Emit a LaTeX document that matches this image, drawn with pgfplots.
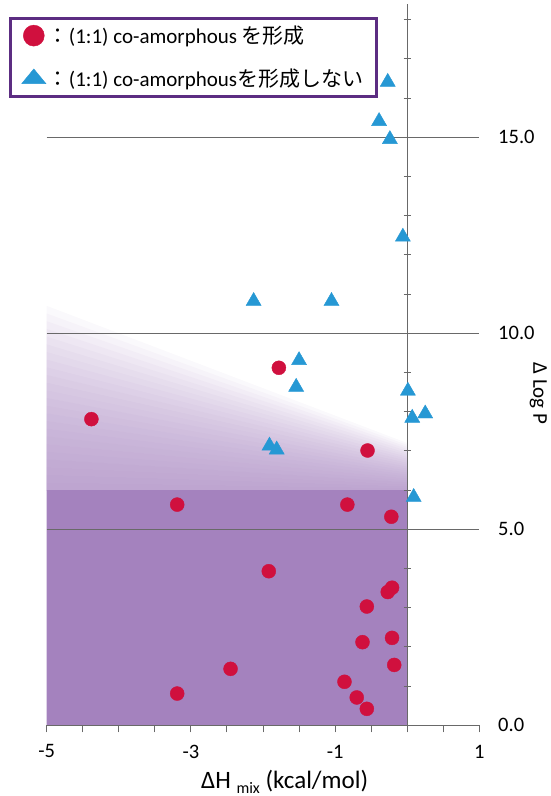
\documentclass[border=0pt]{standalone}
\usepackage{pgfplots}
\pgfplotsset{compat=1.18}
\usepackage{fontspec}
\setmainfont{Carlito}
\newfontfamily\cjk{Noto Sans CJK JP}
\definecolor{solidpurple}{RGB}{164,130,190}
\definecolor{legpurple}{RGB}{92,45,130}
\definecolor{mred}{RGB}{208,16,62}
\definecolor{mblue}{RGB}{38,152,212}
\definecolor{gridgray}{RGB}{105,105,105}
\pgfplotsset{band/.style={on layer=axis background, draw=none, fill=solidpurple, fill opacity=0.05, forget plot}}
\begin{document}
\begin{tikzpicture}
\begin{axis}[
  set layers,
  x=72.1pt, y=39.2pt,
  xmin=-5, xmax=1, ymin=0, ymax=18.4,
  axis x line=bottom,
  axis y line=center,
  x axis line style={-, gridgray, line width=0.9pt},
  y axis line style={-, gridgray, line width=0.9pt},
  xtick={-5,-3,-1,1}, xticklabels={-5,-3,-1,1},
  minor xtick={-4.5,-4,-3.5,-2.5,-2,-1.5,-0.5,0,0.5},
  ytick={0,5,10,15}, yticklabels={0.0,5.0,10.0,15.0},
  minor ytick={1,2,3,4,6,7,8,9,11,12,13,14,16,17,18},
  xtick align=outside, ytick align=center,
  major tick length=7pt, minor tick length=7pt,
  tick style={gridgray, line width=0.9pt},
  ymajorgrids, grid style={gridgray, line width=0.9pt},
  yticklabel pos=right,
  hide obscured y ticks=false,
  ticklabel style={font=\fontsize{20.5}{22}\selectfont},
  yticklabel style={anchor=west, xshift=91pt},
  xticklabel style={anchor=north, yshift=-9pt},
  xlabel={ΔH {\fontsize{16}{16}\selectfont\raisebox{-5pt}{mix}} (kcal/mol)},
  ylabel={Δ Log P},
  every axis x label/.style={at={(axis description cs:0.55,0)}, anchor=north, yshift=-41pt, font=\fontsize{25}{28}\selectfont},
  every axis y label/.style={at={(axis description cs:1,0.46)}, anchor=center, xshift=59pt, rotate=-90, font=\fontsize{21}{24}\selectfont},
  legend cell align=left,
  legend style={at={(axis description cs:-0.0867,0.9826)}, anchor=north west, draw=legpurple, line width=3pt, fill=white, font=\fontsize{21}{25}\selectfont, row sep=20pt, inner ysep=6pt, inner xsep=11pt},
]
% shaded regions
\addplot[on layer=axis background, draw=none, fill=solidpurple, forget plot] coordinates {(-5,0) (0,0) (0,6) (-5,6) (-5,0)};
\addplot[band] coordinates {(-5,6) (0,6) (0,6.05) (-5,6.196) (-5,6)};
\addplot[band] coordinates {(-5,6) (0,6) (0,6.10) (-5,6.392) (-5,6)};
\addplot[band] coordinates {(-5,6) (0,6) (0,6.15) (-5,6.588) (-5,6)};
\addplot[band] coordinates {(-5,6) (0,6) (0,6.20) (-5,6.783) (-5,6)};
\addplot[band] coordinates {(-5,6) (0,6) (0,6.25) (-5,6.979) (-5,6)};
\addplot[band] coordinates {(-5,6) (0,6) (0,6.30) (-5,7.175) (-5,6)};
\addplot[band] coordinates {(-5,6) (0,6) (0,6.35) (-5,7.371) (-5,6)};
\addplot[band] coordinates {(-5,6) (0,6) (0,6.40) (-5,7.567) (-5,6)};
\addplot[band] coordinates {(-5,6) (0,6) (0,6.45) (-5,7.763) (-5,6)};
\addplot[band] coordinates {(-5,6) (0,6) (0,6.50) (-5,7.958) (-5,6)};
\addplot[band] coordinates {(-5,6) (0,6) (0,6.55) (-5,8.154) (-5,6)};
\addplot[band] coordinates {(-5,6) (0,6) (0,6.60) (-5,8.350) (-5,6)};
\addplot[band] coordinates {(-5,6) (0,6) (0,6.65) (-5,8.546) (-5,6)};
\addplot[band] coordinates {(-5,6) (0,6) (0,6.70) (-5,8.742) (-5,6)};
\addplot[band] coordinates {(-5,6) (0,6) (0,6.75) (-5,8.938) (-5,6)};
\addplot[band] coordinates {(-5,6) (0,6) (0,6.80) (-5,9.133) (-5,6)};
\addplot[band] coordinates {(-5,6) (0,6) (0,6.85) (-5,9.329) (-5,6)};
\addplot[band] coordinates {(-5,6) (0,6) (0,6.90) (-5,9.525) (-5,6)};
\addplot[band] coordinates {(-5,6) (0,6) (0,6.95) (-5,9.721) (-5,6)};
\addplot[band] coordinates {(-5,6) (0,6) (0,7.00) (-5,9.917) (-5,6)};
\addplot[band] coordinates {(-5,6) (0,6) (0,7.05) (-5,10.113) (-5,6)};
\addplot[band] coordinates {(-5,6) (0,6) (0,7.10) (-5,10.308) (-5,6)};
\addplot[band] coordinates {(-5,6) (0,6) (0,7.15) (-5,10.504) (-5,6)};
\addplot[band] coordinates {(-5,6) (0,6) (0,7.20) (-5,10.700) (-5,6)};
% co-amorphous formed
\addplot[only marks, mark=*, mark size=7pt, mred, forget plot] coordinates {
(-1.78,9.12) (-4.38,7.81) (-0.55,7.01) (-3.19,5.63) (-0.83,5.63) (-0.22,5.32)
(-1.92,3.93) (-0.21,3.51) (-0.27,3.40) (-0.56,3.03) (-0.21,2.23) (-0.62,2.12)
(-0.18,1.54) (-2.45,1.44) (-0.87,1.11) (-3.19,0.81) (-0.70,0.71) (-0.56,0.42)};
% not formed
\addplot[only marks, mark=triangle*, mark size=8.7pt, mblue, forget plot] coordinates {
(-0.27,16.41) (-0.39,15.41) (-0.24,14.95) (-0.06,12.46) (-2.13,10.82) (-1.05,10.82)
(-1.50,9.31) (-1.54,8.63) (0.01,8.53) (0.07,7.84) (0.25,7.95) (-1.91,7.13)
(-1.81,7.03) (0.09,5.82)};
\addlegendimage{only marks, mark=*, mark size=10.5pt, mred, line width=0.4pt}
\addlegendentry{{\cjk ：}(1:1) co-amorphous {\cjk を形成}}
\addlegendimage{only marks, mark=triangle*, mark size=14pt, mblue, line width=0.4pt, mark options={yscale=0.7}}
\addlegendentry{{\cjk ：}(1:1) co-amorphous{\cjk を形成しない}}
\end{axis}
\pgfresetboundingbox
\useasboundingbox (-46.7pt,-70.7pt) rectangle (504.3pt,725.3pt);
\end{tikzpicture}
\end{document}
